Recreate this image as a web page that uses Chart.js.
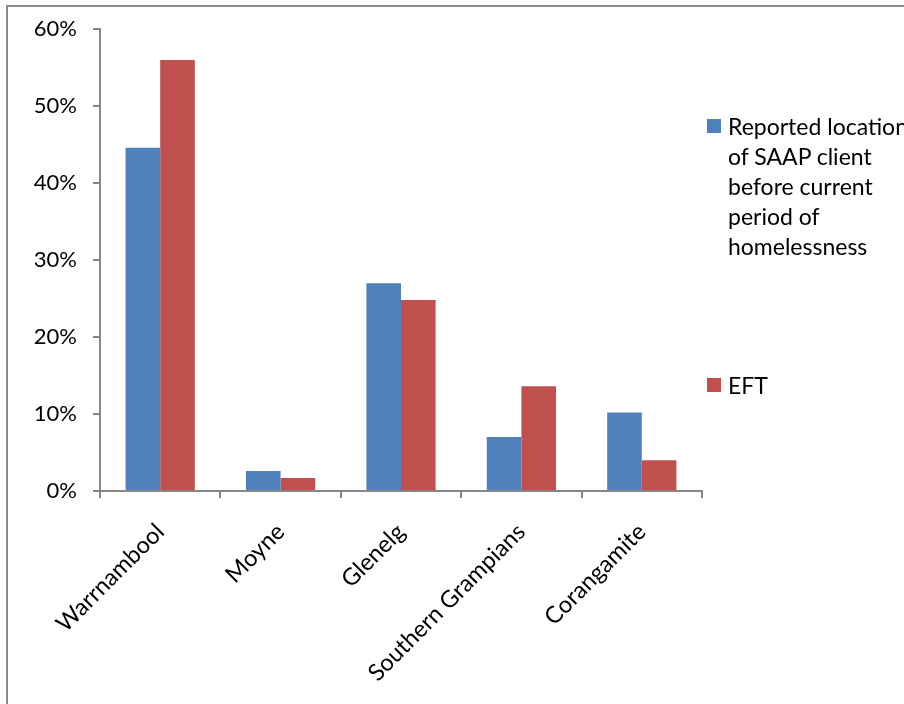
<!DOCTYPE html>
<html lang="en">
<head>
  <meta charset="UTF-8">
  <title>SAAP client location vs EFT</title>
  <script src="https://cdn.jsdelivr.net/npm/chart.js"></script>
  <style>
    html, body { margin: 0; padding: 0; background: #fff; }
    body { width: 904px; height: 704px; overflow: hidden; position: relative; font-family: Lato, "Open Sans", sans-serif; }
    .frame { position: absolute; left: 6px; top: 5px; width: 1000px; height: 800px; border: 2px solid #8a8a8a; }
    #chart { position: absolute; left: 0; top: 0; }
    #legend { position: absolute; left: 707px; top: 0; white-space: nowrap; font-size: 23px; color: #000; }
    .item { position: absolute; left: 0; }
    .swatch { position: absolute; left: 0; width: 14px; height: 14px; }
    .text { position: absolute; left: 21px; line-height: 30px; }
  </style>
</head>
<body>
<div class="frame"></div>
<canvas id="chart" width="904" height="704"></canvas>
<div id="legend"></div>
<script>
  // regions (x axis)
  const regions = ['Warrnambool', 'Moyne', 'Glenelg', 'Southern Grampians', 'Corangamite'];
  // share of clients per region, in percent
  const saapShare = [44.6, 2.6, 27.0, 7.0, 10.2];
  const eftShare = [56.0, 1.7, 24.8, 13.6, 4.0];
  const seriesNames = ['Reported location of SAAP client before current period of homelessness', 'EFT'];
  // how the legend breaks each name into lines
  const legendLines = [
    ['Reported location', 'of SAAP client', 'before current', 'period of', 'homelessness'],
    ['EFT']
  ];
  const yTicks = [0, 10, 20, 30, 40, 50, 60];

  const axisGrey = '#868686';
  const tickFont = { family: 'Lato', size: 22 };

  const chart = new Chart(document.getElementById('chart'), {
    type: 'bar',
    data: {
      labels: regions,
      datasets: [
        { label: seriesNames[0], data: saapShare, backgroundColor: '#4F81BD' },
        { label: seriesNames[1], data: eftShare, backgroundColor: '#C0504D' }
      ]
    },
    options: {
      responsive: false,
      animation: false,
      layout: { padding: { top: 27, right: 202, left: 0, bottom: 0 } },
      datasets: { bar: { categoryPercentage: 0.575, barPercentage: 1 } },
      plugins: { legend: { display: false }, tooltip: { enabled: false } },
      scales: {
        x: {
          afterFit: s => { s.height = 213; },
          grid: { drawOnChartArea: false, drawTicks: true, tickLength: 7, color: axisGrey, lineWidth: 2 },
          border: { color: axisGrey, width: 2 },
          ticks: { color: '#000', font: { family: 'Lato', size: 23.5 }, minRotation: 45, maxRotation: 45, padding: 20 }
        },
        y: {
          min: 0,
          max: 60,
          afterFit: s => { s.width = 100; },
          afterBuildTicks: s => { s.ticks = yTicks.map(v => ({ value: v })); },
          grid: { drawOnChartArea: false, drawTicks: true, tickLength: 7, color: axisGrey, lineWidth: 2 },
          border: { color: axisGrey, width: 2 },
          ticks: { color: '#000', font: tickFont, padding: 16, callback: v => v + '%' }
        }
      }
    }
  });

  // legend drawn beside the plot, one block per series
  const legendTops = [119, 378];
  const legend = document.getElementById('legend');
  chart.data.datasets.forEach((ds, i) => {
    const item = document.createElement('div');
    item.className = 'item';
    item.style.top = legendTops[i] + 'px';
    const sw = document.createElement('div');
    sw.className = 'swatch';
    sw.style.background = ds.backgroundColor;
    const txt = document.createElement('div');
    txt.className = 'text';
    txt.style.top = '-8px';
    txt.innerHTML = legendLines[i].join('<br>');
    item.appendChild(sw);
    item.appendChild(txt);
    legend.appendChild(item);
  });
</script>
</body>
</html>
